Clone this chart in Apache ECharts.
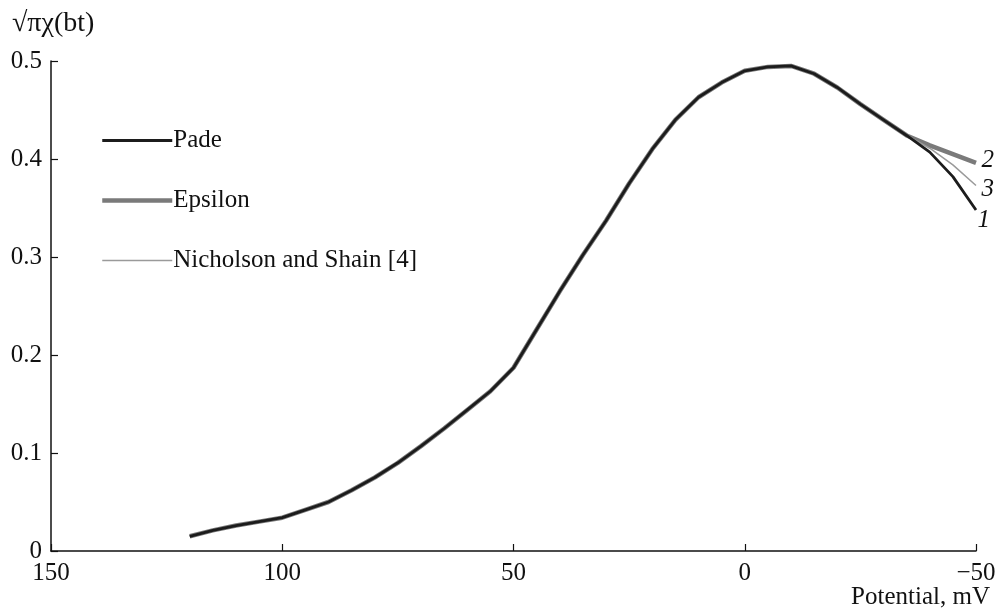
<!DOCTYPE html>
<html>
<head>
<meta charset="utf-8">
<script src="https://cdn.jsdelivr.net/npm/echarts@6/dist/echarts.min.js"></script>
<style>
  html, body { margin: 0; padding: 0; background: #fff; }
  #chart { width: 999px; height: 608px; }
</style>
</head>
<body>
<div id="chart"></div>
<script>
// potential, mV (axis runs from 150 down to -50)
const potential = [120, 115, 110, 105, 100, 95, 90, 85, 80, 75, 70, 65, 60, 55, 50, 45, 40, 35,
  30, 25, 20, 15, 10, 5, 0, -5, -10, -15, -20, -25, -30, -35, -40, -45, -50];

// the three curves coincide up to about -35 mV
const padeValues = [0.015, 0.021, 0.026, 0.030, 0.034, 0.042, 0.050, 0.062, 0.075, 0.090, 0.107, 0.125, 0.144, 0.163, 0.187, 0.226, 0.265, 0.302,
  0.337, 0.375, 0.410, 0.440, 0.463, 0.478, 0.490, 0.494, 0.495, 0.487, 0.473, 0.456, 0.440, 0.424, 0.407, 0.382, 0.348];
const epsilonValues = [0.015, 0.021, 0.026, 0.030, 0.034, 0.042, 0.050, 0.062, 0.075, 0.090, 0.107, 0.125, 0.144, 0.163, 0.187, 0.226, 0.265, 0.302,
  0.337, 0.375, 0.410, 0.440, 0.463, 0.478, 0.490, 0.494, 0.495, 0.487, 0.473, 0.456, 0.440, 0.424, 0.414, 0.405, 0.396];
const nicholsonValues = [0.015, 0.021, 0.026, 0.030, 0.034, 0.042, 0.050, 0.062, 0.075, 0.090, 0.107, 0.125, 0.144, 0.163, 0.187, 0.226, 0.265, 0.302,
  0.337, 0.375, 0.410, 0.440, 0.463, 0.478, 0.490, 0.494, 0.495, 0.487, 0.473, 0.456, 0.440, 0.424, 0.411, 0.394, 0.373];

const xTicks = [150, 100, 50, 0, -50];
const yTicks = [0, 0.1, 0.2, 0.3, 0.4, 0.5];

const serif = '"Liberation Serif", "DejaVu Serif", serif';
const ink = '#111';

const pairs = vals => potential.map((x, i) => [x, vals[i]]);

const chart = echarts.init(document.getElementById('chart'));

const endLabel = (text, offset) => ({
  show: true,
  formatter: text,
  fontFamily: serif,
  fontSize: 25,
  fontStyle: 'italic',
  color: ink,
  distance: 4,
  offset: offset
});

chart.setOption({
  animation: false,
  backgroundColor: '#fff',
  grid: {
    left: 51,
    right: 23,
    top: 61,
    bottom: 57
  },
  title: [{
    text: '√πχ(bt)',
    left: 7,
    top: 5,
    textStyle: { fontFamily: serif, fontSize: 28, fontWeight: 'normal', color: ink }
  }, {
    text: 'Potential, mV',
    right: 4,
    top: 580,
    textStyle: { fontFamily: serif, fontSize: 25, fontWeight: 'normal', color: ink }
  }],
  legend: {
    orient: 'vertical',
    left: 95,
    top: 123,
    itemGap: 35,
    itemWidth: 70,
    itemHeight: 14,
    itemStyle: { opacity: 0 },
    textStyle: { fontFamily: serif, fontSize: 25, color: ink, padding: [0, 0, 0, -4] },
    data: [
      { name: 'Pade', lineStyle: { width: 2.8 } },
      { name: 'Epsilon', lineStyle: { width: 4.5 } },
      { name: 'Nicholson and Shain [4]', lineStyle: { width: 1.5 } }
    ]
  },
  xAxis: {
    type: 'value',
    inverse: true,
    min: -50,
    max: 150,
    interval: 50,
    splitLine: { show: false },
    axisLine: { onZero: false, lineStyle: { color: ink, width: 1.5 } },
    axisTick: { inside: true, length: 7, lineStyle: { color: ink, width: 1.2 } },
    axisLabel: {
      margin: 10,
      fontFamily: serif,
      fontSize: 25,
      color: ink,
      formatter: v => xTicks.includes(v) ? (v < 0 ? '\u2212' + Math.abs(v) : String(v)) : ''
    }
  },
  yAxis: {
    type: 'value',
    min: 0,
    max: 0.5,
    interval: 0.1,
    splitLine: { show: false },
    axisLine: { show: true, onZero: false, lineStyle: { color: ink, width: 1.5 } },
    axisTick: { show: true, inside: true, length: 7, lineStyle: { color: ink, width: 1.2 } },
    axisLabel: {
      margin: 9,
      fontFamily: serif,
      fontSize: 25,
      color: ink,
      formatter: v => yTicks.some(t => Math.abs(t - v) < 1e-9) ? String(+v.toFixed(1)) : ''
    }
  },
  series: [{
    name: 'Pade',
    type: 'line',
    z: 4,
    symbol: 'none',
    color: '#1c1c1c',
    lineStyle: { width: 2.8, color: '#1c1c1c' },
    endLabel: endLabel('1', [18, 10]),
    data: pairs(padeValues)
  }, {
    name: 'Epsilon',
    type: 'line',
    z: 2,
    symbol: 'none',
    color: '#7a7a7a',
    lineStyle: { width: 4.5, color: '#7a7a7a' },
    endLabel: endLabel('2', [22, -2]),
    data: pairs(epsilonValues)
  }, {
    name: 'Nicholson and Shain [4]',
    type: 'line',
    z: 3,
    symbol: 'none',
    color: '#9a9a9a',
    lineStyle: { width: 1.5, color: '#9a9a9a' },
    endLabel: endLabel('3', [22, 4]),
    data: pairs(nicholsonValues)
  }]
});
</script>
</body>
</html>
